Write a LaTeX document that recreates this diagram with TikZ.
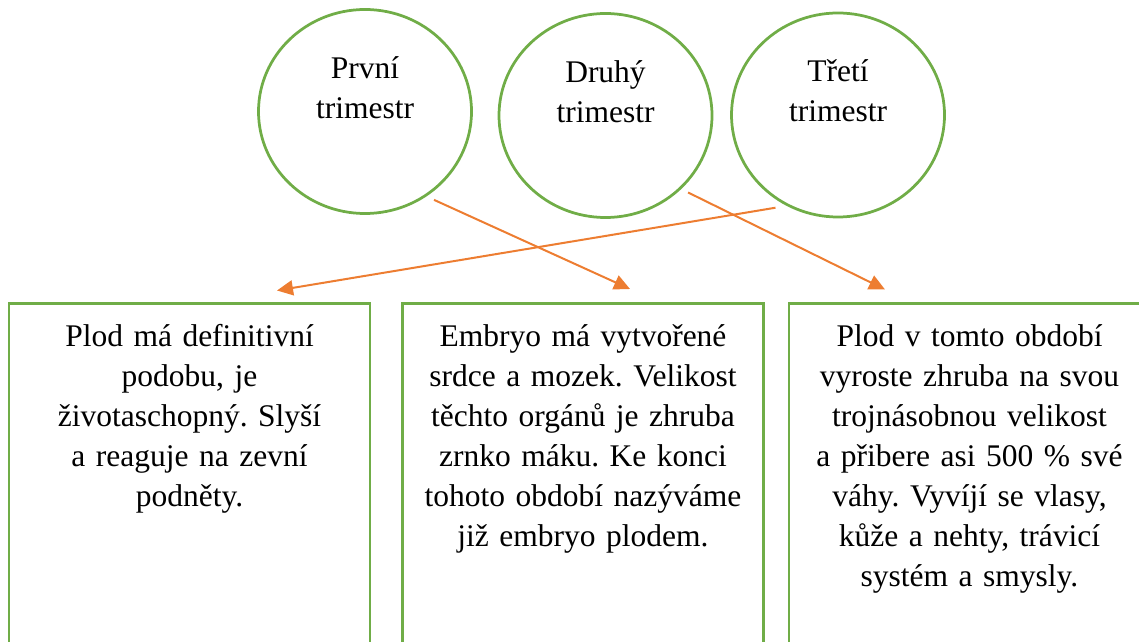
\documentclass[tikz,border=0pt]{standalone}
\usepackage{fontspec}
\setmainfont{Liberation Serif}
\usetikzlibrary{shapes.geometric,arrows.meta}
\definecolor{ofgreen}{HTML}{70AD47}
\definecolor{oforange}{HTML}{ED7D31}
\frenchspacing
\begin{document}
\begin{tikzpicture}[x=1pt, y=1pt,
    stage/.style={ellipse, draw=ofgreen, line width=2.75pt, minimum width=213pt, minimum height=204pt, outer sep=8.5pt},
    box/.style={rectangle, draw=ofgreen, line width=2.75pt, minimum width=361pt, minimum height=420pt, anchor=north},
    txt/.style={font=\fontsize{31.5}{40}\selectfont, align=center, inner sep=0pt, anchor=base},
    arr/.style={-{Triangle[length=16pt, width=15pt]}, draw=oforange, line width=2pt}
]
    \useasboundingbox (0,0) rectangle (1139,641);
    \clip (0,0) rectangle (1139,641);

    % trimestry
    \node[stage] (c1) at (365, 529.5) {};
    \node[stage] (c2) at (605.5, 525.5) {};
    \node[stage] (c3) at (838, 526) {};

    \node[txt, text width=200pt] (t1) at ([yshift=33pt]c1.center) {První\\trimestr};
    \node[txt, text width=200pt] (t2) at ([yshift=33pt]c2.center) {Druhý\\trimestr};
    \node[txt, text width=200pt] (t3) at ([yshift=33pt]c3.center) {Třetí\\trimestr};

    \node[box] (b1) at (189.5, 339) {};
    \node[box] (b2) at (583, 339) {};
    \node[box] (b3) at (969.5, 339) {};

    \node[txt, text width=350pt] (p1) at ([yshift=-44pt]b1.north)
        {Plod má definitivní\\podobu, je\\životaschopný. Slyší\\a reaguje na zevní\\podněty.};
    \node[txt, text width=350pt] (p2) at ([yshift=-44pt]b2.north)
        {Embryo má vytvořené\\srdce a mozek. Velikost\\těchto orgánů je zhruba\\zrnko máku. Ke konci\\tohoto období nazýváme\\již embryo plodem.};
    \node[txt, text width=350pt] (p3) at ([yshift=-44pt]b3.north)
        {Plod v tomto období\\vyroste zhruba na svou\\trojnásobnou velikost\\a přibere asi 500 \% své\\váhy. Vyvíjí se vlasy,\\kůže a nehty, trávicí\\systém a smysly.};

    \coordinate (e1) at ([shift={(87.5,11.5)}]b1.north);
    \coordinate (e2) at ([shift={(47,13)}]b2.north);
    \coordinate (e3) at ([shift={(-84.5,12.5)}]b3.north);

    \draw[arr] (c1.-52.5) -- (e2);
    \draw[arr] (c2.-43) -- (e3);
    \draw[arr] (c3.236) -- (e1);
\end{tikzpicture}
\end{document}
